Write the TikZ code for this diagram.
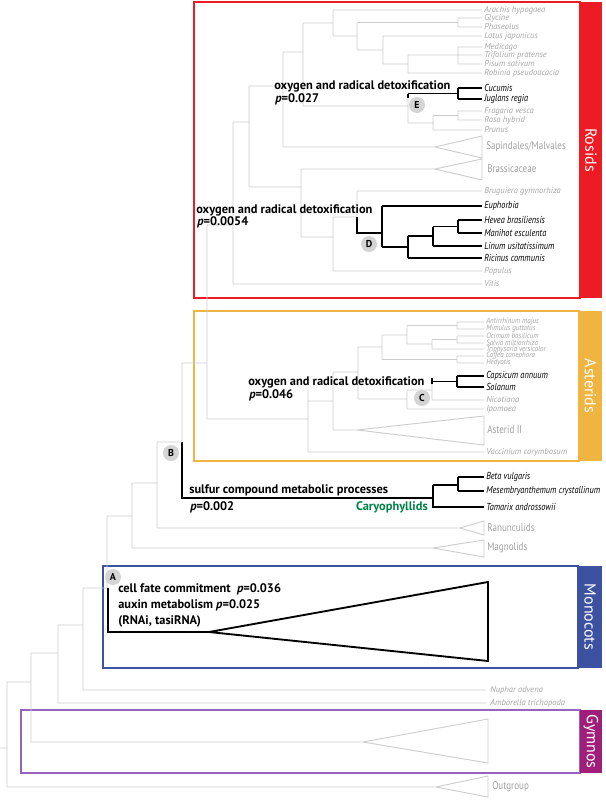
\documentclass[tikz,border=0pt]{standalone}
\usepackage{fontspec}
\setmainfont{PT Sans}
\newfontfamily\condf[FakeStretch=0.82]{PT Sans}
\newfontfamily\condg[FakeStretch=0.9]{PT Sans}
\definecolor{rred}{RGB}{237,28,36}
\definecolor{aor}{RGB}{240,180,64}
\definecolor{mblu}{RGB}{60,82,160}
\definecolor{gpur}{RGB}{158,30,122}
\definecolor{gbox}{RGB}{150,100,190}
\definecolor{lineg}{RGB}{205,205,205}
\definecolor{txtg}{RGB}{165,165,165}
\definecolor{clg}{RGB}{160,160,160}
\definecolor{circg}{RGB}{212,212,212}
\definecolor{cgreen}{RGB}{0,130,70}
\begin{document}
\begin{tikzpicture}[x=0.75pt,y=-0.75pt,
  g/.style={draw=lineg,line width=0.7pt},
  k/.style={draw=black,line width=1.4pt},
  gl/.style={anchor=west,inner sep=0,text=txtg,font=\fontsize{6.4}{7}\selectfont\itshape},
  gs/.style={gl,font=\fontsize{5.8}{6}\condg\itshape},
  kl/.style={anchor=west,inner sep=0,font=\fontsize{7.6}{8}\condf\itshape},
  cl/.style={anchor=west,inner sep=0,text=clg,font=\fontsize{8.3}{10}\condf},
  ann/.style={anchor=west,inner sep=0,align=left,font=\fontsize{9.3}{12}\selectfont\bfseries},
  circ/.style={circle,fill=circg,inner sep=0,minimum size=12pt,font=\fontsize{7.5}{8}\selectfont\bfseries},
  bar/.style={text=white,rotate=-90,font=\fontsize{12}{12}\selectfont}]
\useasboundingbox (0,0) rectangle (606,800);
% boxes
\draw[rred,line width=0.8pt] (194,2) rectangle (580,298);
\fill[rred] (580,2) rectangle (602,298);
\node[bar] (lr) at (591,150) {Rosids};
\draw[aor,line width=0.8pt] (194,311) rectangle (579,461);
\fill[aor] (579,311) rectangle (602,461);
\node[bar] (la) at (590.5,386) {Asterids};
\draw[mblu,line width=0.8pt] (103,566) rectangle (578,668);
\fill[mblu] (578,566) rectangle (602,668);
\node[bar] (lm) at (590,617) {Monocots};
\draw[gbox,line width=0.8pt] (21,710) rectangle (580,773);
\fill[gpur] (580,710) rectangle (602,773);
\node[bar] (lg) at (591,741.5) {Gymnos};
% ---------- Rosids gray tree
\path[g] (333,10)--(482,10) (458,18)--(482,18) (458,27)--(482,27) (458,18)--(458,27) (357,22.5)--(458,22.5)
 (383,36)--(482,36) (458,47)--(482,47) (458,55)--(482,55) (458,64)--(482,64) (458,47)--(458,64) (408,55)--(458,55)
 (408,73)--(482,73) (408,55)--(408,73) (383,64)--(408,64) (383,36)--(383,64) (357,50)--(383,50) (357,22.5)--(357,50)
 (333,36)--(357,36) (333,10)--(333,36) (303,23)--(333,23)
 (408,98)--(408,123) (458,111)--(482,111) (458,120)--(482,120) (458,111)--(458,120) (433,115.5)--(458,115.5)
 (433,130)--(482,130) (433,115.5)--(433,130) (408,123)--(433,123) (303,106)--(408,106) (303,23)--(303,106)
 (283,52)--(303,52) (283,147)--(435,147) (435,147)--(482,136)--(482,158)--cycle (283,52)--(283,147) (249,86)--(283,86)
 (301,169)--(435,169) (435,169)--(482,159)--(482,180)--cycle
 (357,191)--(482,191) (357,191)--(357,217) (458,220)--(458,233) (433,226.5)--(458,226.5)
 (333,217)--(357,217) (333,271)--(482,271) (333,217)--(333,271) (301,237)--(333,237) (301,169)--(301,237)
 (249,187)--(301,187) (249,86)--(249,187) (233,122)--(249,122) (233,284)--(482,284) (233,122)--(233,284)
 (207,225)--(233,225) (207,225)--(207,419);
\path[k] (408,93.5)--(408,98) (408,93.5)--(458,93.5) (458,88)--(458,99) (458,88)--(482,88) (458,99)--(482,99);
\path[k] (357,217)--(357,233)--(382,233) (382,206)--(382,247) (382,206)--(482,206) (382,247)--(408,247)
 (408,236)--(408,258) (408,258)--(482,258) (408,236)--(433,236) (433,226.5)--(433,246) (433,246)--(482,246)
 (433,226.5)--(458,226.5) (458,220)--(458,233) (458,220)--(482,220) (458,233)--(482,233);
% Rosids labels
\node[gl] (t1) at (484,10) {Arachis hypogaea};
\node[gl] (t2) at (484,18) {Glycine};
\node[gl] (t3) at (484,27) {Phaseolus};
\node[gl] (t4) at (484,36) {Lotus japonicus};
\node[gl] (t5) at (484,47) {Medicago};
\node[gl] (t6) at (484,55) {Trifolium pratense};
\node[gl] (t7) at (484,64) {Pisum sativum};
\node[gl] (t8) at (484,73) {Robinia pseudoacacia};
\node[kl] (t9) at (484,88) {Cucumis};
\node[kl] (t10) at (484,99) {Juglans regia};
\node[gl] (t11) at (484,111) {Fragaria vesca};
\node[gl] (t12) at (484,120) {Rosa hybrid};
\node[gl] (t13) at (484,130) {Prunus};
\node[cl] (t14) at (486,147) {Sapindales/Malvales};
\node[cl] (t15) at (487,169) {Brassicaceae};
\node[gl] (t16) at (484,191) {Bruguiera gymnorhiza};
\node[kl] (t17) at (484,206) {Euphorbia};
\node[kl] (t18) at (484,220) {Hevea brasiliensis};
\node[kl] (t19) at (484,233) {Manihot esculenta};
\node[kl] (t20) at (484,246) {Linum usitatissimum};
\node[kl] (t21) at (484,258) {Ricinus communis};
\node[gl] (t22) at (484,271) {Populus};
\node[gl] (t23) at (484,284) {Vitis};
\node[ann] (aE) at (274,86) {oxygen and radical detoxification};
\node[ann] (aEp) at (275,99) {\textit{p}=0.027};
\node[ann] (aD) at (196,210) {oxygen and radical detoxification};
\node[ann] (aDp) at (197,222) {\textit{p}=0.0054};
\node[circ] (cE) at (417,105) {E};
\node[circ] (cD) at (369,244) {D};
% ---------- Asterids
\path[g] (457,322)--(484,322) (457,329)--(484,329) (457,322)--(457,329) (407,325.5)--(457,325.5)
 (457,336)--(484,336) (457,343)--(484,343) (457,336)--(457,343) (432,339.5)--(457,339.5) (432,349)--(484,349)
 (432,339.5)--(432,349) (407,344)--(432,344) (407,325.5)--(407,344) (382,335)--(407,335)
 (457,356)--(484,356) (457,363)--(484,363) (457,356)--(457,363) (382,359.5)--(457,359.5) (382,335)--(382,359.5)
 (358,347)--(382,347) (432,384)--(432,400) (432,400)--(484,400) (407,390)--(432,390) (407,409)--(484,409)
 (407,390)--(407,409) (358,399)--(407,399) (358,347)--(358,399) (333,372)--(358,372)
 (333,430)--(357,430) (357,430)--(484,416)--(484,445)--cycle (333,372)--(333,430) (308,401)--(333,401)
 (308,452)--(484,452) (308,390)--(308,452) (207,419)--(308,419)
 (182,363)--(207,363) (182,363)--(182,442);
\path[k] (432,378)--(432,384) (432,381.5)--(457,381.5) (457,376)--(457,387) (457,376)--(484,376) (457,387)--(484,387);
\node[gs] (u1) at (486,322) {Antirrhinum majus};
\node[gs] (u2) at (486,329) {Mimulus guttatus};
\node[gs] (u3) at (486,336) {Ocimum basilicum};
\node[gs] (u4) at (486,342.5) {Salvia miltiorrhiza};
\node[gs] (u5) at (486,349.5) {Triphysaria versicolor};
\node[gs] (u6) at (486,356) {Coffea canephora};
\node[gs] (u7) at (486,363) {Hedyotis};
\node[kl] (u8) at (486,376) {Capsicum annuum};
\node[kl] (u9) at (486,387) {Solanum};
\node[gl] (u10) at (486,400) {Nicotiana};
\node[gl] (u11) at (486,409) {Ipomoea};
\node[cl] (u12) at (487,430) {Asterid II};
\node[gl] (u13) at (486,452) {Vaccinium corymbosum};
\node[ann] (aC) at (248,382) {oxygen and radical detoxification};
\node[ann] (aCp) at (249,395) {\textit{p}=0.046};
\node[circ] (cC) at (422,398) {C};
% ---------- Caryophyllids and lower
\path[k] (182,442)--(182,498)--(433,498) (433,485)--(433,507)--(484,507) (433,485)--(458,485)
 (458,477)--(458,491) (458,477)--(484,477) (458,491)--(484,491);
\node[kl] (v1) at (486,477) {Beta vulgaris};
\node[kl] (v2) at (486,491) {Mesembryanthemum crystallinum};
\node[kl] (v3) at (486,507) {Tamarix androssowii};
\node[ann] (aB) at (189,490) {sulfur compound metabolic processes};
\node[ann] (aBp) at (190,507) {\textit{p}=0.002};
\node[ann,anchor=east,text=cgreen] (car) at (428,507) {Caryophyllids};
\node[circ] (cB) at (171,453) {B};
\path[g] (157,442)--(182,442) (157,442)--(157,528) (157,528)--(460,528) (460,528)--(484,521)--(484,535)--cycle
 (132,483)--(157,483) (132,483)--(132,548) (132,548)--(433,548) (433,548)--(484,540)--(484,557)--cycle
 (107,516)--(132,516) (107,516)--(107,588) (83,588)--(108,588) (83,588)--(83,690) (83,690)--(486,690)
 (58,625)--(83,625) (58,625)--(58,703) (58,703)--(486,703) (31,653)--(58,653) (31,653)--(31,742)
 (31,742)--(363,742) (363,742)--(488,719)--(488,763)--cycle (7,682)--(31,682) (7,682)--(7,787)
 (7,787)--(436,787) (436,787)--(488,776)--(488,797)--cycle (0,748)--(7,748);
\node[cl] (w1) at (487,528) {Ranunculids};
\node[cl] (w2) at (487,548) {Magnolids};
\node[gl] (w3) at (490,690) {Nuphar advena};
\node[gl] (w4) at (490,703) {Amborella trichopoda};
\node[cl] (w5) at (492,787) {Outgroup};
\path[k] (108,588)--(108,632)--(209,632) (209,632)--(488,582)--(488,661)--cycle;
\node[ann] (aA) at (118,605) {cell fate commitment\ \ \textit{p}=0.036\\auxin metabolism \textit{p}=0.025\\(RNAi, tasiRNA)};
\node[circ] (cA) at (113,577) {A};
\end{tikzpicture}
\end{document}
